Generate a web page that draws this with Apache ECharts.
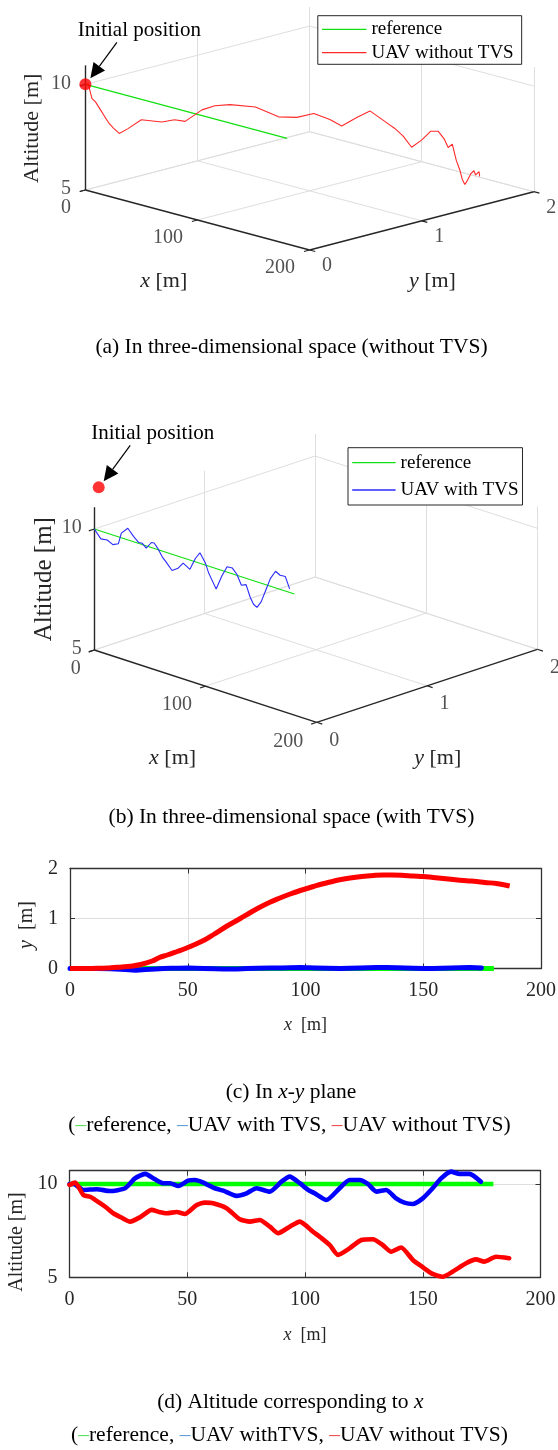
<!DOCTYPE html>
<html>
<head>
<meta charset="utf-8">
<script src="https://cdn.jsdelivr.net/npm/echarts@6/dist/echarts.min.js"></script>
<style>
  html, body { margin: 0; padding: 0; background: #fff; }
  #chart { width: 558px; height: 1450px; }
</style>
</head>
<body>
<div id="chart"></div>
<script>
// ---------- flight data ----------
// reference path: straight, level flight along x
const refX = [0, 180];
const refY = [0, 0];
const refAlt = [10, 10];

// UAV with TVS
const withX = [0, 1.7, 5.9, 11.6, 17.2, 23.6, 27.8, 32.1, 36.3, 39.8, 42.7, 46.2, 50.4, 53.3, 56.8,
  61.7, 65.3, 70.9, 75.2, 79.4, 85, 90, 93.5, 97.8, 101.3, 104.1, 109.1, 114.7, 118.9, 123.2,
  126.7, 130.3, 134.5, 138.7, 142.2, 145.8, 150, 154.2, 157.8, 162, 165.6, 169.8, 174.7];
const withY = [0, 0, 0, 0, -0.005, -0.02, -0.035, -0.02, -0.01, 0, 0.005, 0.005, 0.01, 0.005, 0,
  -0.005, -0.01, -0.01, 0, 0.005, 0.01, 0.01, 0.015, 0.02, 0.015, 0.01, 0.005, 0, 0.005, 0.01,
  0.015, 0.02, 0.02, 0.015, 0.01, 0.005, 0, 0, 0.005, 0.01, 0.015, 0.02, 0.01];
const withAlt = [10.0, 10.0, 9.68, 9.72, 9.62, 9.77, 10.3, 10.54, 10.25, 10.04, 10.04, 9.89, 10.18, 10.21, 10.07,
  9.77, 9.64, 9.36, 9.5, 9.77, 9.59, 10.12, 10.39, 10.04, 9.68, 9.5, 9.14, 9.77, 10.21, 10.21,
  10.0, 9.59, 9.68, 9.23, 9.0, 8.93, 9.23, 9.77, 10.3, 10.66, 10.54, 10.54, 10.12];

// UAV without TVS
const withoutX = [0, 2.4, 5.9, 9, 13, 16, 18.6, 22, 25.7, 30, 34.9, 38, 41.3, 45.5, 49,
  54, 57.5, 61, 66.7, 72.3, 76.6, 80.8, 85.1, 88.6, 93.5, 97.8, 103.4, 107, 110.5, 114,
  118.9, 123.9, 128.8, 133, 136.6, 140.8, 145.8, 150, 154.2, 158.5, 162.7, 168.4, 172.6, 176.1, 181.1, 186.7];
const withoutY = [0, 0, 0, 0, 0.005, 0.01, 0.02, 0.03, 0.045, 0.08, 0.15, 0.22, 0.27, 0.34, 0.4,
  0.5, 0.58, 0.68, 0.85, 1.0, 1.12, 1.23, 1.33, 1.4, 1.49, 1.56, 1.64, 1.69, 1.73, 1.77,
  1.81, 1.84, 1.86, 1.87, 1.87, 1.865, 1.85, 1.84, 1.82, 1.8, 1.78, 1.755, 1.74, 1.72, 1.70, 1.65];
const withoutAlt = [9.95, 10.07, 9.41, 9.3, 8.97, 8.7, 8.43, 8.2, 7.98, 8.22, 8.61, 8.5, 8.43, 8.5, 8.39,
  8.87, 9.0, 8.97, 8.7, 8.11, 7.98, 8.07, 7.71, 7.36, 7.71, 7.98, 7.44, 7.1, 6.73, 6.2,
  6.55, 7.0, 7.04, 6.73, 6.37, 6.6, 5.93, 5.54, 5.18, 5.03, 5.3, 5.75, 5.96, 5.84, 6.1, 6.02];

// initial position markers [x, y, altitude]
const initWithout = [0, 0, 10];
const initWith = [0, 0.04, 11.66];

// axis ticks
const xTicks3d = [0, 100, 200];
const yTicks3d = [0, 1, 2];
const zTicks3d = [5, 10];
const xTicks2d = [0, 50, 100, 150, 200];
const yTicksXY = [0, 1, 2];
const altTicks = [5, 10];

// ---------- styling ----------
const SERIF = "'Liberation Serif','Times New Roman',Times,serif";
const AXIS_DARK = '#262626';
const GRID_LIGHT = '#dedede';
const RED = '#ff0000', BLUE = '#0000ff', GREEN = '#00ff00';

// 3-D box limits and orthographic views (screen vectors per data unit)
const box = { x: [0, 200], y: [0, 2], z: [5, 10.9] };
const viewA = { o: [85.4, 190], ex: [1.121, 0.30], ey: [112.1, -29.15], ez: [0, -21.13] };
const viewB = { o: [94.3, 650], ex: [1.112, 0.3615], ey: [110.35, -36.5], ez: [0, -24.2] };

function proj(v, x, y, z) {
  const dz = z - box.z[0];
  return [v.o[0] + x * v.ex[0] + y * v.ey[0] + dz * v.ez[0],
          v.o[1] + x * v.ex[1] + y * v.ey[1] + dz * v.ez[1]];
}

function frameParts(v) {
  const [x0, x1] = box.x, [y0, y1] = box.y, [z0, z1] = box.z;
  const grid = [], axes = [], ticks = [];
  // floor grid
  xTicks3d.forEach(x => { if (x !== x1) grid.push([proj(v, x, y0, z0), proj(v, x, y1, z0)]); });
  yTicks3d.forEach(y => { if (y !== y0) grid.push([proj(v, x0, y, z0), proj(v, x1, y, z0)]); });
  // back wall x = x0
  yTicks3d.forEach(y => { if (y !== y0) grid.push([proj(v, x0, y, z0), proj(v, x0, y, z1)]); });
  zTicks3d.forEach(z => grid.push([proj(v, x0, y0, z), proj(v, x0, y1, z)]));
  // back wall y = y1
  xTicks3d.forEach(x => grid.push([proj(v, x, y1, z0), proj(v, x, y1, z1)]));
  zTicks3d.forEach(z => grid.push([proj(v, x0, y1, z), proj(v, x1, y1, z)]));
  // axis lines
  axes.push([proj(v, x0, y0, z0), proj(v, x1, y0, z0)]);
  axes.push([proj(v, x1, y0, z0), proj(v, x1, y1, z0)]);
  axes.push([proj(v, x0, y0, z0), proj(v, x0, y0, z1)]);
  // tick marks
  xTicks3d.forEach(x => ticks.push([proj(v, x, y0, z0), proj(v, x, y0 - 0.05, z0)]));
  yTicks3d.forEach(y => ticks.push([proj(v, x1, y, z0), proj(v, x1 + 5, y, z0)]));
  zTicks3d.forEach(z => ticks.push([proj(v, x0, y0, z), proj(v, x0, y0 - 0.05, z)]));
  return { grid, axes, ticks };
}

function segSeries(segs, color, width, z) {
  return {
    type: 'lines', coordinateSystem: 'cartesian2d', xAxisIndex: 0, yAxisIndex: 0,
    silent: true, z: z, polyline: false,
    lineStyle: { color: color, width: width, opacity: 1, curveness: 0 },
    data: segs.map(c => ({ coords: c }))
  };
}

function tickLabelSeries(v, off) {
  const items = [];
  const add = (p, t, o) => items.push({
    name: String(t), value: p,
    label: { show: true, position: [o.dx, o.dy], align: o.align, verticalAlign: 'middle', formatter: '{b}' }
  });
  xTicks3d.forEach(t => add(proj(v, t, box.y[0], box.z[0]), t, off.x));
  yTicks3d.forEach(t => add(proj(v, box.x[1], t, box.z[0]), t, off.y));
  zTicks3d.forEach(t => add(proj(v, box.x[0], box.y[0], t), t, off.z));
  return {
    type: 'scatter', xAxisIndex: 0, yAxisIndex: 0, silent: true, symbolSize: 1, z: 6,
    itemStyle: { color: 'rgba(0,0,0,0)' },
    label: { fontFamily: SERIF, fontSize: 20, color: AXIS_DARK },
    data: items
  };
}

function path3d(v, name, xs, ys, zs, color, z) {
  return {
    type: 'line', name: name, xAxisIndex: 0, yAxisIndex: 0, symbol: 'none', showSymbol: false,
    silent: true, clip: false, z: z,
    lineStyle: { color: color, width: 1.1 }, itemStyle: { color: color },
    data: xs.map((x, i) => proj(v, x, ys[i], zs[i]))
  };
}

// annotation "Initial position" with arrow, anchored at the projected marker
function annotation(p) {
  const tip = [p[0] + 5, p[1] - 6];
  const tail = [p[0] + 31.5, p[1] - 42];
  const dx = tip[0] - tail[0], dy = tip[1] - tail[1];
  const len = Math.hypot(dx, dy);
  const ux = dx / len, uy = dy / len;
  const headLen = 15, headHalf = 7.2;
  const base = [tip[0] - ux * headLen, tip[1] - uy * headLen];
  const px = -uy, py = ux;
  return [
    { type: 'line', z: 20, shape: { x1: tail[0], y1: tail[1], x2: base[0], y2: base[1] },
      style: { stroke: '#000', lineWidth: 1.2 } },
    { type: 'polygon', z: 20, shape: { points: [tip, [base[0] + px * headHalf, base[1] + py * headHalf],
      [base[0] - px * headHalf, base[1] - py * headHalf]] }, style: { fill: '#000' } },
    { type: 'text', z: 20, x: p[0] + 54, y: p[1] - 54,
      style: { text: 'Initial position', fontFamily: SERIF, fontSize: 21, fill: '#000',
        align: 'center', verticalAlign: 'middle' } }
  ];
}

function titleText(x, y, text, size, rot) {
  return {
    type: 'text', x: x, y: y, rotation: rot || 0, z: 20,
    style: {
      text: text, fontFamily: SERIF, fontSize: size, fill: AXIS_DARK, align: 'center', verticalAlign: 'middle',
      rich: { i: { fontFamily: SERIF, fontSize: size, fontStyle: 'italic', fill: AXIS_DARK } }
    }
  };
}

function caption(x, y, text) {
  const size = 21.5;
  const tok = (c, extra) => Object.assign({ fontFamily: SERIF, fontSize: size, fill: c }, extra || {});
  return {
    type: 'text', x: x, y: y, z: 20,
    style: {
      text: text, fontFamily: SERIF, fontSize: size, fill: '#000', align: 'center', verticalAlign: 'middle',
      rich: {
        i: tok('#000', { fontStyle: 'italic' }),
        g: tok('#55e055'), b: tok('#5b9bd5'), r: tok('#f24848')
      }
    }
  };
}

function legendBox(names, left, top, padding, gap, iconW) {
  return {
    data: names.map(n => ({ name: n, icon: 'rect' })),
    orient: 'vertical', left: left, top: top, padding: padding, itemGap: gap,
    itemWidth: iconW, itemHeight: 1.3, selectedMode: false,
    borderColor: AXIS_DARK, borderWidth: 1, borderRadius: 0, backgroundColor: '#fff',
    textStyle: { fontFamily: SERIF, fontSize: 19, color: '#000', lineHeight: 20 }
  };
}

const fA = frameParts(viewA);
const fB = frameParts(viewB);
const markA = proj(viewA, initWithout[0], initWithout[1], initWithout[2]);
const markB = proj(viewB, initWith[0], initWith[1], initWith[2]);

// ---------- 2-D axes ----------
const tickFont = { fontFamily: SERIF, fontSize: 20, color: AXIS_DARK };
function xBottom(grid, nameGap) {
  return {
    type: 'value', gridIndex: grid, position: 'bottom', min: xTicks2d[0], max: xTicks2d[xTicks2d.length - 1], interval: 50,
    axisLine: { show: true, onZero: false, lineStyle: { color: '#333', width: 1.3 } },
    axisTick: { show: true, inside: true, length: 5, lineStyle: { color: '#333', width: 1 } },
    splitLine: { show: true, lineStyle: { color: GRID_LIGHT, width: 1 } },
    axisLabel: Object.assign({ margin: 12.5, formatter: v => (xTicks2d.includes(v) ? String(v) : '') }, tickFont),
    name: '{i|x}  [m]', nameLocation: 'middle', nameGap: nameGap,
    nameTextStyle: { fontFamily: SERIF, fontSize: 18, color: AXIS_DARK,
      rich: { i: { fontFamily: SERIF, fontSize: 18, fontStyle: 'italic', color: AXIS_DARK } } }
  };
}
function xTop(grid) {
  return {
    type: 'value', gridIndex: grid, position: 'top', min: 0, max: 200, interval: 50,
    axisLine: { show: true, onZero: false, lineStyle: { color: '#333', width: 1.3 } },
    axisTick: { show: true, inside: true, length: 5, lineStyle: { color: '#333', width: 1 } },
    splitLine: { show: false }, axisLabel: { show: false }
  };
}
function yRight(grid, min, max, interval) {
  return {
    type: 'value', gridIndex: grid, position: 'right', min: min, max: max, interval: interval,
    axisLine: { show: true, onZero: false, lineStyle: { color: '#333', width: 1.3 } },
    axisTick: { show: true, inside: true, length: 5, lineStyle: { color: '#333', width: 1 } },
    splitLine: { show: false }, axisLabel: { show: false }
  };
}

const option = {
  animation: false,
  backgroundColor: '#ffffff',
  grid: [
    { left: 0, top: 0, width: 558, height: 1450, outerBoundsMode: 'none', containLabel: false },
    { left: 70, top: 868.5, width: 471, height: 100, outerBoundsMode: 'none', containLabel: false },
    { left: 69.5, top: 1170.7, width: 471, height: 106.6, outerBoundsMode: 'none', containLabel: false }
  ],
  xAxis: [
    { type: 'value', gridIndex: 0, min: 0, max: 558, show: false },
    xBottom(1, 47.5),
    xTop(1),
    xBottom(2, 48.5),
    xTop(2)
  ],
  yAxis: [
    { type: 'value', gridIndex: 0, min: 0, max: 1450, inverse: true, show: false },
    {
      type: 'value', gridIndex: 1, position: 'left', min: 0, max: 2, interval: 1,
      axisLine: { show: true, onZero: false, lineStyle: { color: '#333', width: 1.3 } },
      axisTick: { show: true, inside: true, length: 5, lineStyle: { color: '#333', width: 1 } },
      splitLine: { show: true, lineStyle: { color: GRID_LIGHT, width: 1 } },
      axisLabel: Object.assign({ margin: 12, padding: [0, 0, 8, 0],
        formatter: v => (yTicksXY.includes(v) ? String(v) : '') }, tickFont),
      name: '{i|y}  [m]', nameLocation: 'middle', nameGap: 31,
      nameTextStyle: { fontFamily: SERIF, fontSize: 20, color: AXIS_DARK, padding: [0, 13, 0, 0],
        rich: { i: { fontFamily: SERIF, fontSize: 20, fontStyle: 'italic', color: AXIS_DARK } } }
    },
    yRight(1, 0, 2, 1),
    {
      type: 'value', gridIndex: 2, position: 'left', min: 5, max: 10.71, interval: 5,
      axisLine: { show: true, onZero: false, lineStyle: { color: '#333', width: 1.3 } },
      axisTick: { show: true, inside: true, length: 5, lineStyle: { color: '#333', width: 1 } },
      splitLine: { show: true, lineStyle: { color: GRID_LIGHT, width: 1 } },
      axisLabel: Object.assign({ margin: 12, padding: [0, 0, 12, 0],
        formatter: v => (altTicks.includes(v) ? String(v) : '') }, tickFont),
      name: 'Altitude [m]', nameLocation: 'middle', nameGap: 42,
      nameTextStyle: { fontFamily: SERIF, fontSize: 20, color: AXIS_DARK, padding: [0, 36, 0, 0] }
    },
    yRight(2, 5, 10.71, 5)
  ],
  legend: [
    legendBox(['reference', 'UAV without TVS'], 317.8, 15.7, [3.6, 8, 1.6, 4.2], 3.4, 44.5),
    legendBox(['reference', 'UAV with TVS'], 348, 447.7, [5, 4, 5, 4.2], 7.3, 43.4)
  ],
  series: [
    // ----- (a) 3-D, without TVS -----
    path3d(viewA, 'reference', refX, refY, refAlt, '#10e010', 5),
    path3d(viewA, 'UAV without TVS', withoutX, withoutY, withoutAlt, '#ff2a2a', 5),
    segSeries(fA.grid, GRID_LIGHT, 1, 1),
    segSeries(fA.axes, AXIS_DARK, 1.4, 3),
    segSeries(fA.ticks, AXIS_DARK, 1.2, 3),
    tickLabelSeries(viewA, {
      x: { dx: -14, dy: 18.3, align: 'right' },
      y: { dx: 13, dy: 16.6, align: 'left' },
      z: { dx: -14, dy: -0.5, align: 'right' }
    }),
    {
      type: 'scatter', xAxisIndex: 0, yAxisIndex: 0, silent: true, symbolSize: 12, z: 8,
      itemStyle: { color: RED }, data: [markA]
    },
    // ----- (b) 3-D, with TVS -----
    path3d(viewB, 'reference', refX, refY, refAlt, '#10e010', 5),
    path3d(viewB, 'UAV with TVS', withX, withY, withAlt, '#2a2aff', 5),
    segSeries(fB.grid, GRID_LIGHT, 1, 1),
    segSeries(fB.axes, AXIS_DARK, 1.4, 3),
    segSeries(fB.ticks, AXIS_DARK, 1.2, 3),
    tickLabelSeries(viewB, {
      x: { dx: -13, dy: 19.5, align: 'right' },
      y: { dx: 13, dy: 18.6, align: 'left' },
      z: { dx: -12, dy: -1.2, align: 'right' }
    }),
    {
      type: 'scatter', xAxisIndex: 0, yAxisIndex: 0, silent: true, symbolSize: 12, z: 8,
      itemStyle: { color: RED }, data: [markB]
    },
    // ----- (c) x-y plane -----
    { type: 'line', name: 'xy reference', xAxisIndex: 1, yAxisIndex: 1, symbol: 'none', clip: false, z: 3,
      lineStyle: { color: GREEN, width: 5, cap: 'butt' }, data: refX.map((x, i) => [x, refY[i]]) },
    { type: 'line', name: 'xy with TVS', xAxisIndex: 1, yAxisIndex: 1, symbol: 'none', clip: false, z: 4,
      lineStyle: { color: BLUE, width: 5, cap: 'round', join: 'round' }, data: withX.map((x, i) => [x, withY[i]]) },
    { type: 'line', name: 'xy without TVS', xAxisIndex: 1, yAxisIndex: 1, symbol: 'none', clip: false, z: 5,
      smooth: 0.4, lineStyle: { color: RED, width: 5, cap: 'butt', join: 'round' }, data: withoutX.map((x, i) => [x, withoutY[i]]) },
    // ----- (d) altitude vs x -----
    { type: 'line', name: 'alt reference', xAxisIndex: 3, yAxisIndex: 3, symbol: 'none', clip: false, z: 3,
      lineStyle: { color: GREEN, width: 4.6, cap: 'butt' }, data: refX.map((x, i) => [x, refAlt[i]]) },
    { type: 'line', name: 'alt with TVS', xAxisIndex: 3, yAxisIndex: 3, symbol: 'none', clip: false, z: 4,
      smooth: 0.2, lineStyle: { color: BLUE, width: 4.6, cap: 'round', join: 'round' }, data: withX.map((x, i) => [x, withAlt[i]]) },
    { type: 'line', name: 'alt without TVS', xAxisIndex: 3, yAxisIndex: 3, symbol: 'none', clip: false, z: 5,
      smooth: 0.2, lineStyle: { color: RED, width: 4.6, cap: 'round', join: 'round' }, data: withoutX.map((x, i) => [x, withoutAlt[i]]) }
  ],
  graphic: [
    ...annotation(markA),
    ...annotation(markB),
    // 3-D axis titles
    titleText(163.7, 281.7, '{i|x} [m]', 22),
    titleText(432.4, 281.7, '{i|y} [m]', 22),
    titleText(32.5, 128.3, 'Altitude [m]', 22, Math.PI / 2),
    titleText(172.6, 758.3, '{i|x} [m]', 22),
    titleText(437.7, 758.3, '{i|y} [m]', 22),
    titleText(44.5, 579.2, 'Altitude [m]', 25, Math.PI / 2),
    // captions
    caption(291.5, 347, '(a) In three-dimensional space (without TVS)'),
    caption(291.5, 817, '(b) In three-dimensional space (with TVS)'),
    caption(291, 1092, '(c) In {i|x}-{i|y} plane'),
    caption(289.5, 1125, '({g|\u2013}reference, {b|\u2013}UAV with TVS, {r|\u2013}UAV without TVS)'),
    caption(290.3, 1402, '(d) Altitude corresponding to {i|x}'),
    caption(289.5, 1435, '({g|\u2013}reference, {b|\u2013}UAV withTVS, {r|\u2013}UAV without TVS)')
  ]
};

const chart = echarts.init(document.getElementById('chart'), null, { renderer: 'canvas', width: 558, height: 1450 });
chart.setOption(option);
</script>
</body>
</html>
